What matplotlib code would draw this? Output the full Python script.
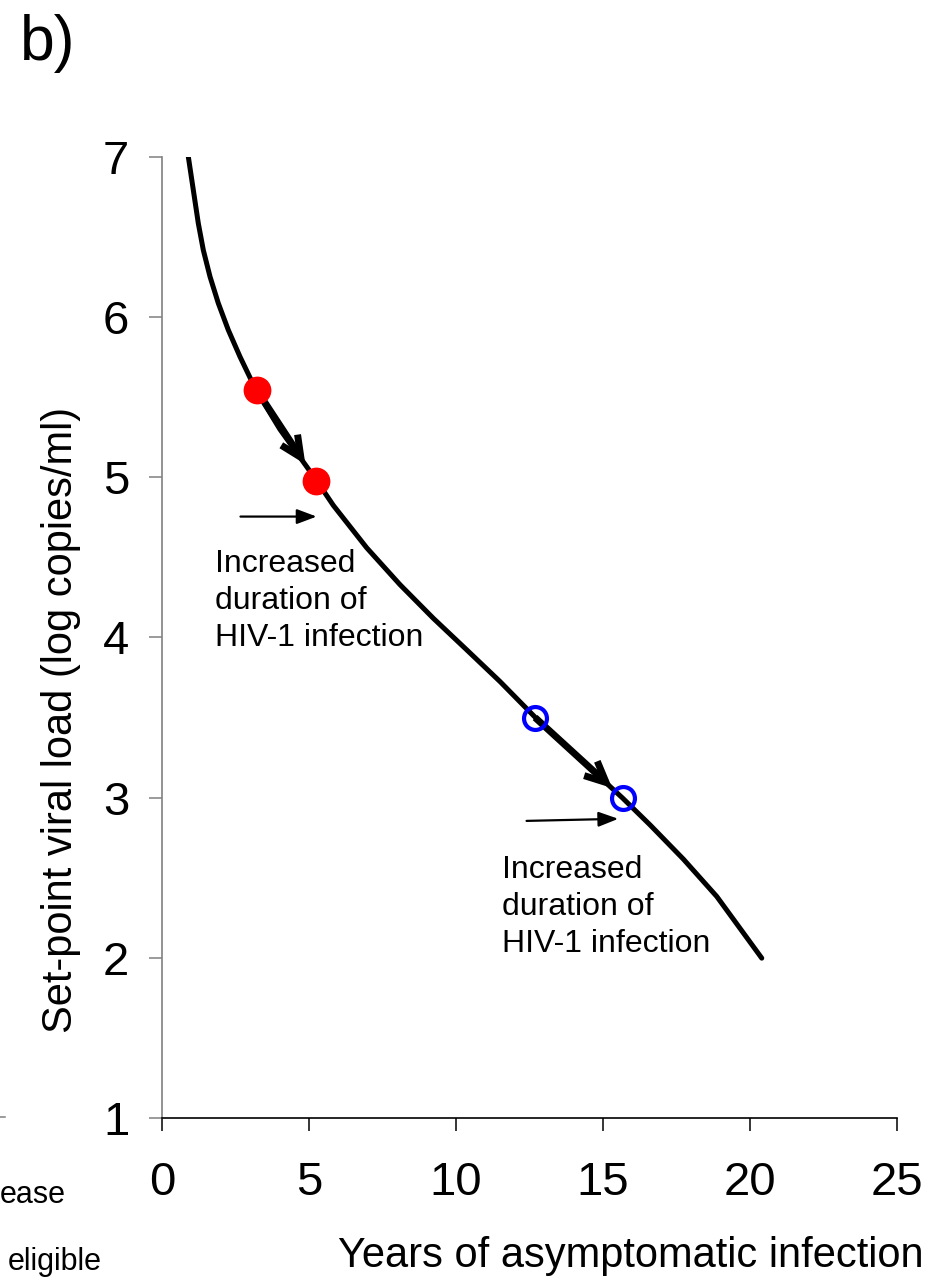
import matplotlib
matplotlib.use("Agg")
import matplotlib.pyplot as plt
from matplotlib.lines import Line2D

plt.rcParams['font.family'] = ['Liberation Sans', 'DejaVu Sans']

# Set-point viral load as a function of years of asymptomatic infection
curve_years = [0.895, 1.065, 1.235, 1.405, 1.633, 1.915, 2.255, 2.653, 3.197, 4.01,
               5.24, 5.827, 6.963, 8.095, 9.228, 10.364, 11.497, 12.687, 13.765,
               15.67, 16.60, 17.73, 18.87, 20.40]
curve_load = [7.002, 6.794, 6.586, 6.419, 6.253, 6.087, 5.920, 5.753, 5.545, 5.300,
              4.985, 4.825, 4.560, 4.330, 4.120, 3.923, 3.725, 3.503, 3.319,
              2.997, 2.83, 2.617, 2.383, 1.998]

# High set-point pair (filled red) and low set-point pair (open blue)
red_years = [3.22, 5.24]
red_load = [5.545, 4.98]
blue_years = [12.69, 15.67]
blue_load = [3.50, 3.0]

# Thin arrows pointing at the later point of each pair
pointer_tail_years = [2.67, 12.40]
pointer_tail_load = [4.755, 2.855]
pointer_head_years = [5.26, 15.52]
pointer_head_load = [4.755, 2.868]

annotation = "Increased\nduration of\nHIV-1 infection"
annotation_years = [1.81, 11.55]
annotation_load = [4.553, 2.645]

x_ticks = [0, 5, 10, 15, 20, 25]
y_ticks = [1, 2, 3, 4, 5, 6, 7]

fig = plt.figure(figsize=(9.37, 12.8), dpi=100)
ax = fig.add_axes([162 / 937, 1 - 1118 / 1280, (897 - 162) / 937, (1118 - 157) / 1280])

ax.plot(curve_years, curve_load, color='black', lw=3.6, solid_capstyle='round',
        solid_joinstyle='round', zorder=2)

# Thick arrows running from the first to the second point of each pair
for (xs, ys), frac in (((red_years, red_load), 0.82), ((blue_years, blue_load), 0.88)):
    x_end = xs[0] + frac * (xs[1] - xs[0])
    y_end = ys[0] + frac * (ys[1] - ys[0])
    ax.annotate('', xy=(x_end, y_end), xytext=(xs[0], ys[0]),
                arrowprops=dict(arrowstyle='->,head_length=1.5,head_width=0.7',
                                lw=5.0, color='black', shrinkA=0, shrinkB=0,
                                joinstyle='miter', capstyle='butt'),
                zorder=3)

ax.plot(red_years, red_load, 'o', color='#ff0000', ms=19, mec='#ff0000', zorder=4)
ax.plot(blue_years, blue_load, 'o', mfc='none', mec='#0000ff', ms=16.5, mew=3, zorder=4)

for tx, ty, hx, hy in zip(pointer_tail_years, pointer_tail_load,
                          pointer_head_years, pointer_head_load):
    ax.annotate('', xy=(hx, hy), xytext=(tx, ty),
                arrowprops=dict(arrowstyle='-|>,head_length=1.2,head_width=0.45',
                                lw=1.6, color='black', shrinkA=0, shrinkB=0))

for tx, ty in zip(annotation_years, annotation_load):
    ax.text(tx, ty, annotation, fontsize=23, ha='left', va='top',
            linespacing=1.31, color='black')

ax.set_xlim(0, 25)
ax.set_ylim(1, 7)
ax.set_xticks(x_ticks)
ax.set_yticks(y_ticks)
ax.tick_params(axis='x', direction='out', length=9, width=1.1, color='black',
               labelsize=34, pad=22)
ax.tick_params(axis='y', direction='out', length=9.5, width=1.1, color='#808080',
               labelsize=34, pad=14)

for side in ('top', 'right'):
    ax.spines[side].set_visible(False)
ax.spines['left'].set_color('#808080')
ax.spines['left'].set_linewidth(1.2)
ax.spines['bottom'].set_color('black')
ax.spines['bottom'].set_linewidth(1.2)

fig.text(631 / 937, 1 - 1267 / 1280, "Years of asymptomatic infection",
         fontsize=30, ha='center', va='baseline')
fig.text(61 / 937, 1 - 720 / 1280, "Set-point viral load (log copies/ml)",
         fontsize=30, ha='center', va='center', rotation=90)

fig.text(20 / 937, 1 - 60 / 1280, "b)", fontsize=45, ha='left', va='baseline')

# Fragments of the neighbouring panel at the left edge
fig.text(0, 1 - 1203 / 1280, "ease", fontsize=22, ha='left', va='baseline')
fig.text(8 / 937, 1 - 1270 / 1280, "eligible", fontsize=22, ha='left', va='baseline')
fig.add_artist(Line2D([0, 5 / 937], [1 - 1117 / 1280] * 2, color='#808080', lw=1.1))

fig.savefig('out.png', dpi=100)
